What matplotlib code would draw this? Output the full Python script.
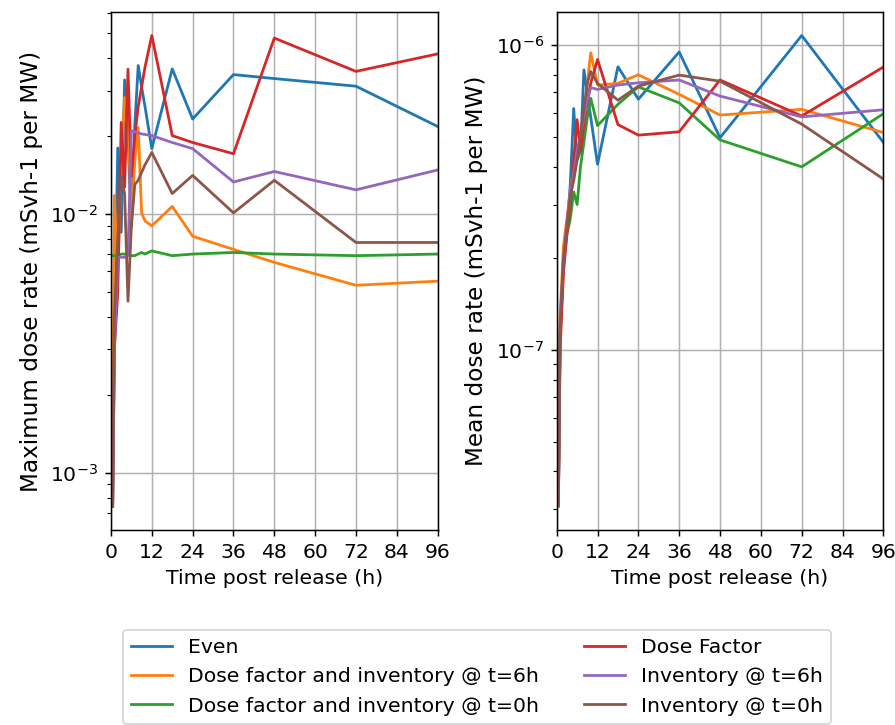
import matplotlib
matplotlib.use("Agg")
import matplotlib.pyplot as plt

plt.rcParams["font.size"] = 11

# time after release (h)
hours = [0.5, 1, 2, 3, 4, 5, 6, 7, 8, 9, 10, 12, 18, 24, 36, 48, 72, 96]

labels = [
    "Even",
    "Dose factor and inventory @ t=6h",
    "Dose factor and inventory @ t=0h",
    "Dose Factor",
    "Inventory @ t=6h",
    "Inventory @ t=0h",
]

# maximum dose rate (mSvh-1 per MW)
max_even = [7.5e-4, 3.5e-3, 0.018, 0.0085, 0.033, 0.020, 0.0089, 0.022, 0.0375, 0.031, 0.026,
            0.0179, 0.0364, 0.0233, 0.0346, 0.0334, 0.0312, 0.0218]
max_df_inv6 = [1.5e-3, 0.0118, 0.0059, 0.015, 0.0282, 0.025, 0.0094, 0.016, 0.0216, 0.0101, 0.0094,
               0.0090, 0.0107, 0.0082, 0.0073, 0.0065, 0.0053, 0.0055]
max_df_inv0 = [0.0069, 0.0069, 0.0069, 0.0070, 0.0070, 0.0070, 0.0069, 0.0069, 0.0070, 0.0071, 0.0070,
               0.0072, 0.0069, 0.0070, 0.0071, 0.0070, 0.0069, 0.0070]
max_df = [7.4e-4, 3.0e-3, 5.0e-3, 0.0226, 0.0127, 0.0363, 0.014, 0.020, 0.026, 0.031, 0.037,
          0.049, 0.0201, 0.0189, 0.0171, 0.0479, 0.0356, 0.0416]
max_inv6 = [8.0e-4, 3.0e-3, 0.0068, 0.0068, 0.0068, 0.0069, 0.021, 0.0208, 0.0206, 0.0204, 0.0203,
            0.0201, 0.0189, 0.0179, 0.0133, 0.0146, 0.0124, 0.0148]
max_inv0 = [7.4e-4, 4.0e-3, 0.008, 0.0139, 0.012, 0.0046, 0.009, 0.013, 0.0135, 0.0145, 0.0155,
            0.0173, 0.0120, 0.0141, 0.0101, 0.0135, 0.00776, 0.00776]

# mean dose rate (mSvh-1 per MW)
mean_even = [3.2e-8, 1.1e-7, 2.0e-7, 2.5e-7, 3.5e-7, 6.2e-7, 4.2e-7, 4.5e-7, 8.3e-7, 7.0e-7, 5.8e-7,
             4.07e-7, 8.5e-7, 6.65e-7, 9.5e-7, 4.97e-7, 1.076e-6, 4.8e-7]
mean_df_inv6 = [3.3e-8, 1.3e-7, 2.2e-7, 2.7e-7, 3.3e-7, 4.0e-7, 4.5e-7, 5.0e-7, 5.5e-7, 7.5e-7, 9.44e-7,
                7.4e-7, 7.5e-7, 8.0e-7, 6.9e-7, 5.9e-7, 6.16e-7, 5.17e-7]
mean_df_inv0 = [3.2e-8, 1.1e-7, 1.9e-7, 2.4e-7, 2.7e-7, 3.3e-7, 3.0e-7, 4.0e-7, 4.8e-7, 5.8e-7, 6.7e-7,
                5.45e-7, 6.4e-7, 7.3e-7, 6.47e-7, 4.89e-7, 3.99e-7, 5.96e-7]
mean_df = [3.1e-8, 1.0e-7, 1.8e-7, 2.4e-7, 3.0e-7, 4.2e-7, 5.7e-7, 4.5e-7, 5.5e-7, 6.5e-7, 7.5e-7,
           8.98e-7, 5.49e-7, 5.07e-7, 5.2e-7, 7.69e-7, 5.86e-7, 8.48e-7]
mean_inv6 = [3.2e-8, 1.2e-7, 2.0e-7, 2.6e-7, 3.3e-7, 3.8e-7, 4.5e-7, 5.0e-7, 5.8e-7, 6.6e-7, 7.26e-7,
             7.16e-7, 7.4e-7, 7.53e-7, 7.69e-7, 6.81e-7, 5.82e-7, 6.14e-7]
mean_inv0 = [3.07e-8, 1.2e-7, 2.0e-7, 2.5e-7, 3.2e-7, 3.6e-7, 4.2e-7, 5.0e-7, 6.2e-7, 7.5e-7, 8.2e-7,
             7.5e-7, 6.6e-7, 7.34e-7, 7.98e-7, 7.62e-7, 5.51e-7, 3.64e-7]

max_series = [max_even, max_df_inv6, max_df_inv0, max_df, max_inv6, max_inv0]
mean_series = [mean_even, mean_df_inv6, mean_df_inv0, mean_df, mean_inv6, mean_inv0]
colors = ["C0", "C1", "C2", "C3", "C4", "C5"]

fig = plt.figure(figsize=(895 / 133.33, 725 / 133.33), dpi=133.33)
ax1 = fig.add_axes([0.124, 0.269, 0.365, 0.7145])
ax2 = fig.add_axes([0.622, 0.269, 0.365, 0.7145])

for vals, lab, c in zip(max_series, labels, colors):
    ax1.plot(hours, vals, color=c, label=lab)
for vals, lab, c in zip(mean_series, labels, colors):
    ax2.plot(hours, vals, color=c, label=lab)

for ax in (ax1, ax2):
    ax.set_yscale("log")
    ax.set_xlim(0, 96)
    ax.set_xticks(range(0, 97, 12))
    ax.grid(True)
    ax.set_xlabel("Time post release (h)")

ax1.set_ylabel("Maximum dose rate (mSvh-1 per MW)", fontsize=12.5)
ax2.set_ylabel("Mean dose rate (mSvh-1 per MW)", fontsize=12.5)

handles, labs = ax1.get_legend_handles_labels()
fig.legend(handles, labs, ncol=2, mode="expand", loc="upper left", borderaxespad=0,
           bbox_to_anchor=(0.137, 0.0, 0.792, 0.131))

fig.savefig("out.png", dpi=133.33)
